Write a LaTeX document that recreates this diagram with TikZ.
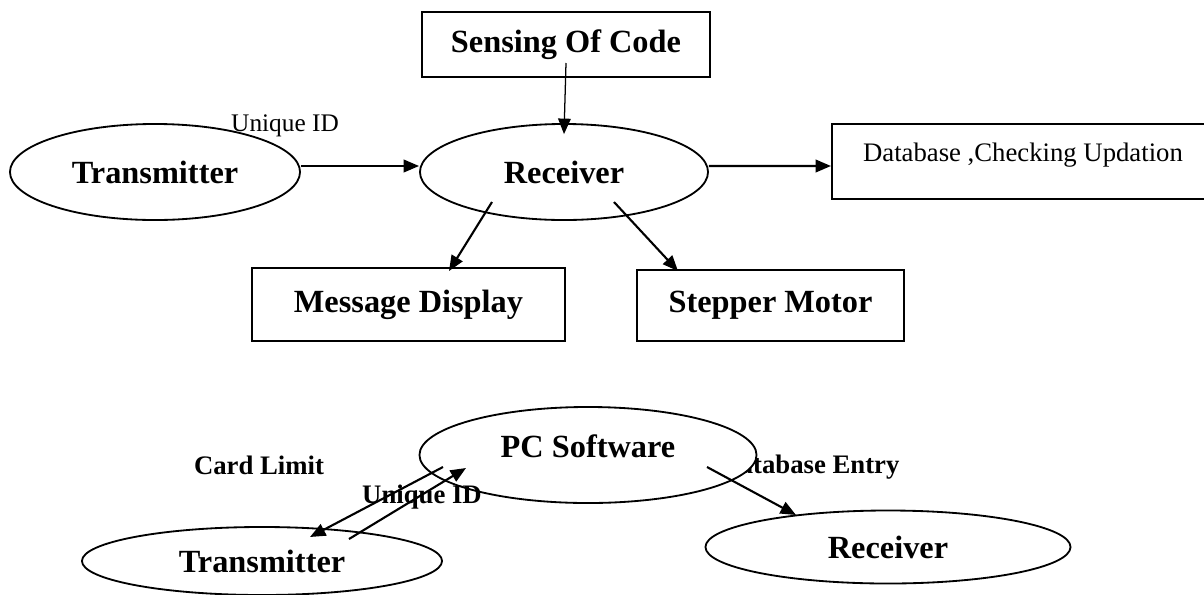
\documentclass[tikz,border=0pt]{standalone}
\usepackage{fontspec}
\setmainfont{Liberation Serif}
\usepackage{tikz}
\usetikzlibrary{shapes.geometric,arrows.meta,positioning,calc}
\tikzstyle{oval}=[draw,ellipse,line width=1.3pt,fill=white,inner sep=0pt,font=\fontsize{23}{27}\selectfont\bfseries]
\tikzstyle{blockbox}=[draw,rectangle,line width=1.4pt,inner sep=0pt,font=\fontsize{23}{27}\selectfont\bfseries]
\tikzstyle{flow}=[line width=1.5pt,-{Triangle[length=11pt,width=9pt]}]
\tikzstyle{smalllabel}=[inner sep=0pt,font=\fontsize{19}{23}\selectfont\bfseries]

\begin{document}
\begin{tikzpicture}[x=0.025cm,y=-0.025cm]
\useasboundingbox (0,0) rectangle (1204,594);
% upper diagram
\node [blockbox,minimum width=7.2cm,minimum height=1.625cm] (sense) at (566,44.5) {Sensing Of Code};
\node [oval,minimum width=7.25cm,minimum height=2.4cm] (tx) at (155,172) {Transmitter};
\node [oval,minimum width=7.2cm,minimum height=2.4cm] (rx) at (564,172) {Receiver};
\node [blockbox,minimum width=9.55cm,minimum height=1.875cm,text depth=0.45cm,font=\fontsize{19}{23}\selectfont] (db) at (1023,161.5) {Database ,Checking Updation};
\node [blockbox,minimum width=7.825cm,minimum height=1.825cm] (msg) at (408.5,304.5) {Message Display};
\node [blockbox,minimum width=6.675cm,minimum height=1.775cm] (step) at (770.5,305.5) {Stepper Motor};
\node [inner sep=0pt,font=\fontsize{18}{22}\selectfont] (uid) at (285,126) {Unique ID};

\draw [flow] ([shift={(0,-6)}]tx.east) -- ([shift={(0,-6)}]rx.west);
\draw [flow] ([shift={(0,-6)}]rx.east) -- ([shift={(0,4.5)}]db.west);
\draw [flow,line width=0.9pt] ([shift={(0,18.5)}]sense.center) -- ([shift={(0,11)}]rx.north);
\draw [flow] ([shift={(-72,30)}]rx.center) -- ([shift={(40.5,4)}]msg.north);
\draw [flow] ([shift={(50,30)}]rx.center) -- ([shift={(-92.5,2)}]step.north);

% lower diagram
\node [smalllabel] (dbe) at (810,467) {Database Entry};
\node [smalllabel] (limit) at (259,465) {Card Limit};
\node [oval,minimum width=8.425cm,minimum height=2.4cm,text depth=0.45cm] (pc) at (588,455) {PC Software};
\node [oval,minimum width=9cm,minimum height=1.7cm] (tx2) at (262,561) {Transmitter};
\node [oval,minimum width=9.125cm,minimum height=1.825cm] (rx2) at (888,547) {Receiver};

\draw [flow] ([shift={(-145,12)}]pc.center) -- ([shift={(48,-24)}]tx2.center);
\draw [flow] ([shift={(87,-22)}]tx2.center) -- ([shift={(-122,13)}]pc.center);
\draw [flow] ([shift={(119,12)}]pc.center) -- ([shift={(-92,-32)}]rx2.center);
\node [smalllabel] (uid2) at (422,497) {Unique ID};
\end{tikzpicture}
\end{document}
